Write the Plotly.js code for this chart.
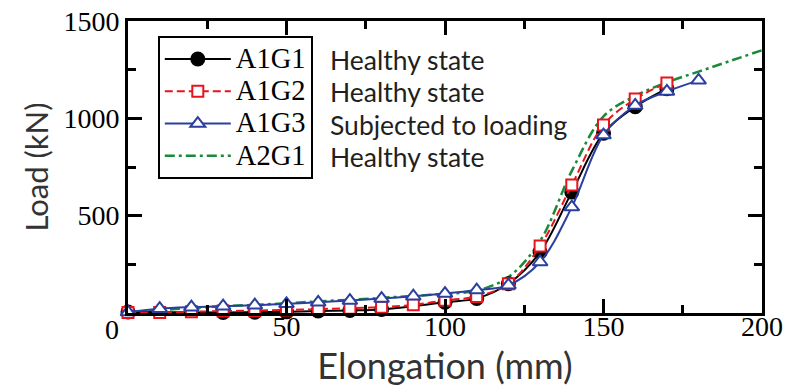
<!DOCTYPE html>
<html>
<head>
<meta charset="utf-8">
<script src="https://cdn.plot.ly/plotly-3.0.1.min.js"></script>
<style>html,body{margin:0;padding:0;background:#fff;}#chart{width:795px;height:387px;}</style>
</head>
<body>
<div id="chart"></div>
<script>
// ---- data ----
const a1g1_x = [0, 30, 40, 50, 60, 70, 80, 100, 110, 120, 130, 140, 150, 160, 170];
const a1g1_y = [5, 3, 4, 6, 10, 13, 18, 55, 75, 150, 313, 621, 924, 1060, 1152];

const a1g2_x = [0, 10, 20, 30, 40, 50, 60, 70, 80, 90, 100, 110, 120, 130, 140, 150, 160, 170];
const a1g2_y = [3, 3, 6, 10, 12, 16, 20, 25, 30, 42, 65, 85, 150, 344, 657, 966, 1099, 1182];

const a1g3_x = [0, 10, 20, 30, 40, 50, 60, 70, 80, 90, 100, 110, 120, 130, 140, 150, 160, 170, 180];
const a1g3_y = [5, 22, 30, 35, 40, 47, 55, 64, 74, 86, 100, 118, 143, 262, 544, 914, 1066, 1138, 1195];

const a2g1_x = [0, 10, 20, 30, 40, 50, 60, 70, 80, 90, 100, 110, 120, 130, 140, 150, 160, 170, 180, 190, 200];
const a2g1_y = [5, 15, 25, 35, 42, 50, 60, 68, 78, 88, 98, 115, 185, 370, 730, 1010, 1115, 1185, 1240, 1295, 1350];

const seriesNames = ['A1G1', 'A1G2', 'A1G3', 'A2G1'];
const seriesNotes = ['Healthy state', 'Healthy state', 'Subjected to loading', 'Healthy state'];

const xTickVals = [0, 50, 100, 150, 200];
const xTickText = ['', '50', '100', '150', '200'];
const yTickVals = [0, 500, 1000, 1500];
const yTickText = ['', '500', '1000', '1500'];
const originLabel = '0';

// ---- styling helpers ----
const SERIF = '"Liberation Serif", "Times New Roman", serif';
const SANS = 'Lato, "Noto Sans", sans-serif';
const serifFont = (s) => ({family: SERIF, size: s, color: '#000000'});
const legendName = (n) => '<span style="font-size:28.5px">' + n + '</span>';

// ---- traces ----
const green = {
  x: a2g1_x, y: a2g1_y, name: legendName(seriesNames[3]), mode: 'lines', legendrank: 4, cliponaxis: false,
  line: {color: '#1a8a3a', width: 2.5, dash: '10px,4px,3px,4px', shape: 'spline', smoothing: 1}
};
const black = {
  x: a1g1_x, y: a1g1_y, name: legendName(seriesNames[0]), mode: 'lines+markers', legendrank: 1, cliponaxis: false,
  line: {color: '#000000', width: 2, shape: 'spline', smoothing: 1},
  marker: {symbol: 'circle', size: 15, color: '#000000'}
};
const red = {
  x: a1g2_x, y: a1g2_y, name: legendName(seriesNames[1]), mode: 'lines+markers', legendrank: 2, cliponaxis: false,
  line: {color: '#e8141c', width: 2, dash: '8px,4px', shape: 'spline', smoothing: 1},
  marker: {symbol: 'square', size: 11, color: '#ffffff', line: {color: '#e8141c', width: 2}}
};
const blue = {
  x: a1g3_x, y: a1g3_y, name: legendName(seriesNames[2]), mode: 'lines+markers', legendrank: 3, cliponaxis: false,
  line: {color: '#2a3f9e', width: 2, shape: 'spline', smoothing: 1},
  marker: {symbol: 'triangle-up', size: 13, color: '#ffffff', line: {color: '#2a3f9e', width: 2}}
};

const notes = seriesNotes.map((t, i) => ({
  xref: 'paper', yref: 'paper', x: 0.3155, y: [0.866, 0.757, 0.644, 0.534][i],
  xanchor: 'left', yanchor: 'middle', showarrow: false, text: t,
  font: {family: SANS, size: 26.5, color: '#231f20'}
}));
notes.push({
  xref: 'paper', yref: 'paper', x: -0.026, y: -0.055, xanchor: 'center', yanchor: 'middle',
  showarrow: false, text: originLabel, font: serifFont(28)
});

const layout = {
  width: 795, height: 387,
  margin: {l: 128, r: 33, t: 21, b: 74},
  paper_bgcolor: '#ffffff', plot_bgcolor: '#ffffff',
  showlegend: true,
  legend: {
    x: 0.047, y: 0.949, xanchor: 'left', yanchor: 'top',
    bgcolor: '#ffffff', bordercolor: '#000000', borderwidth: 2,
    font: serifFont(22.5),
    itemwidth: 66, tracegroupgap: 0, traceorder: 'normal'
  },
  xaxis: {
    range: [0, 200], tickvals: xTickVals, ticktext: xTickText,
    showgrid: false, zeroline: false,
    showline: true, linecolor: '#000', linewidth: 3, mirror: 'ticks',
    ticks: 'inside', ticklen: 14, tickwidth: 3, tickcolor: '#000',
    minor: {dtick: 25, ticks: 'inside', ticklen: 8, tickwidth: 3, tickcolor: '#000', showgrid: false},
    tickfont: serifFont(28), ticklabelstandoff: -14,
    title: {text: 'Elongation (mm)', font: {family: SANS, size: 36, color: '#333333'}, standoff: 14}
  },
  yaxis: {
    range: [0, 1500], tickvals: yTickVals, ticktext: yTickText,
    showgrid: false, zeroline: false,
    showline: true, linecolor: '#000', linewidth: 3, mirror: 'ticks',
    ticks: 'inside', ticklen: 14, tickwidth: 3, tickcolor: '#000',
    minor: {dtick: 250, ticks: 'inside', ticklen: 8, tickwidth: 3, tickcolor: '#000', showgrid: false},
    tickfont: serifFont(28),
    title: {text: 'Load (kN)', font: {family: SANS, size: 31, color: '#333333'}, standoff: 6}
  },
  annotations: notes
};

Plotly.newPlot('chart', [green, black, red, blue], layout, {staticPlot: true, displayModeBar: false});
</script>
</body>
</html>
